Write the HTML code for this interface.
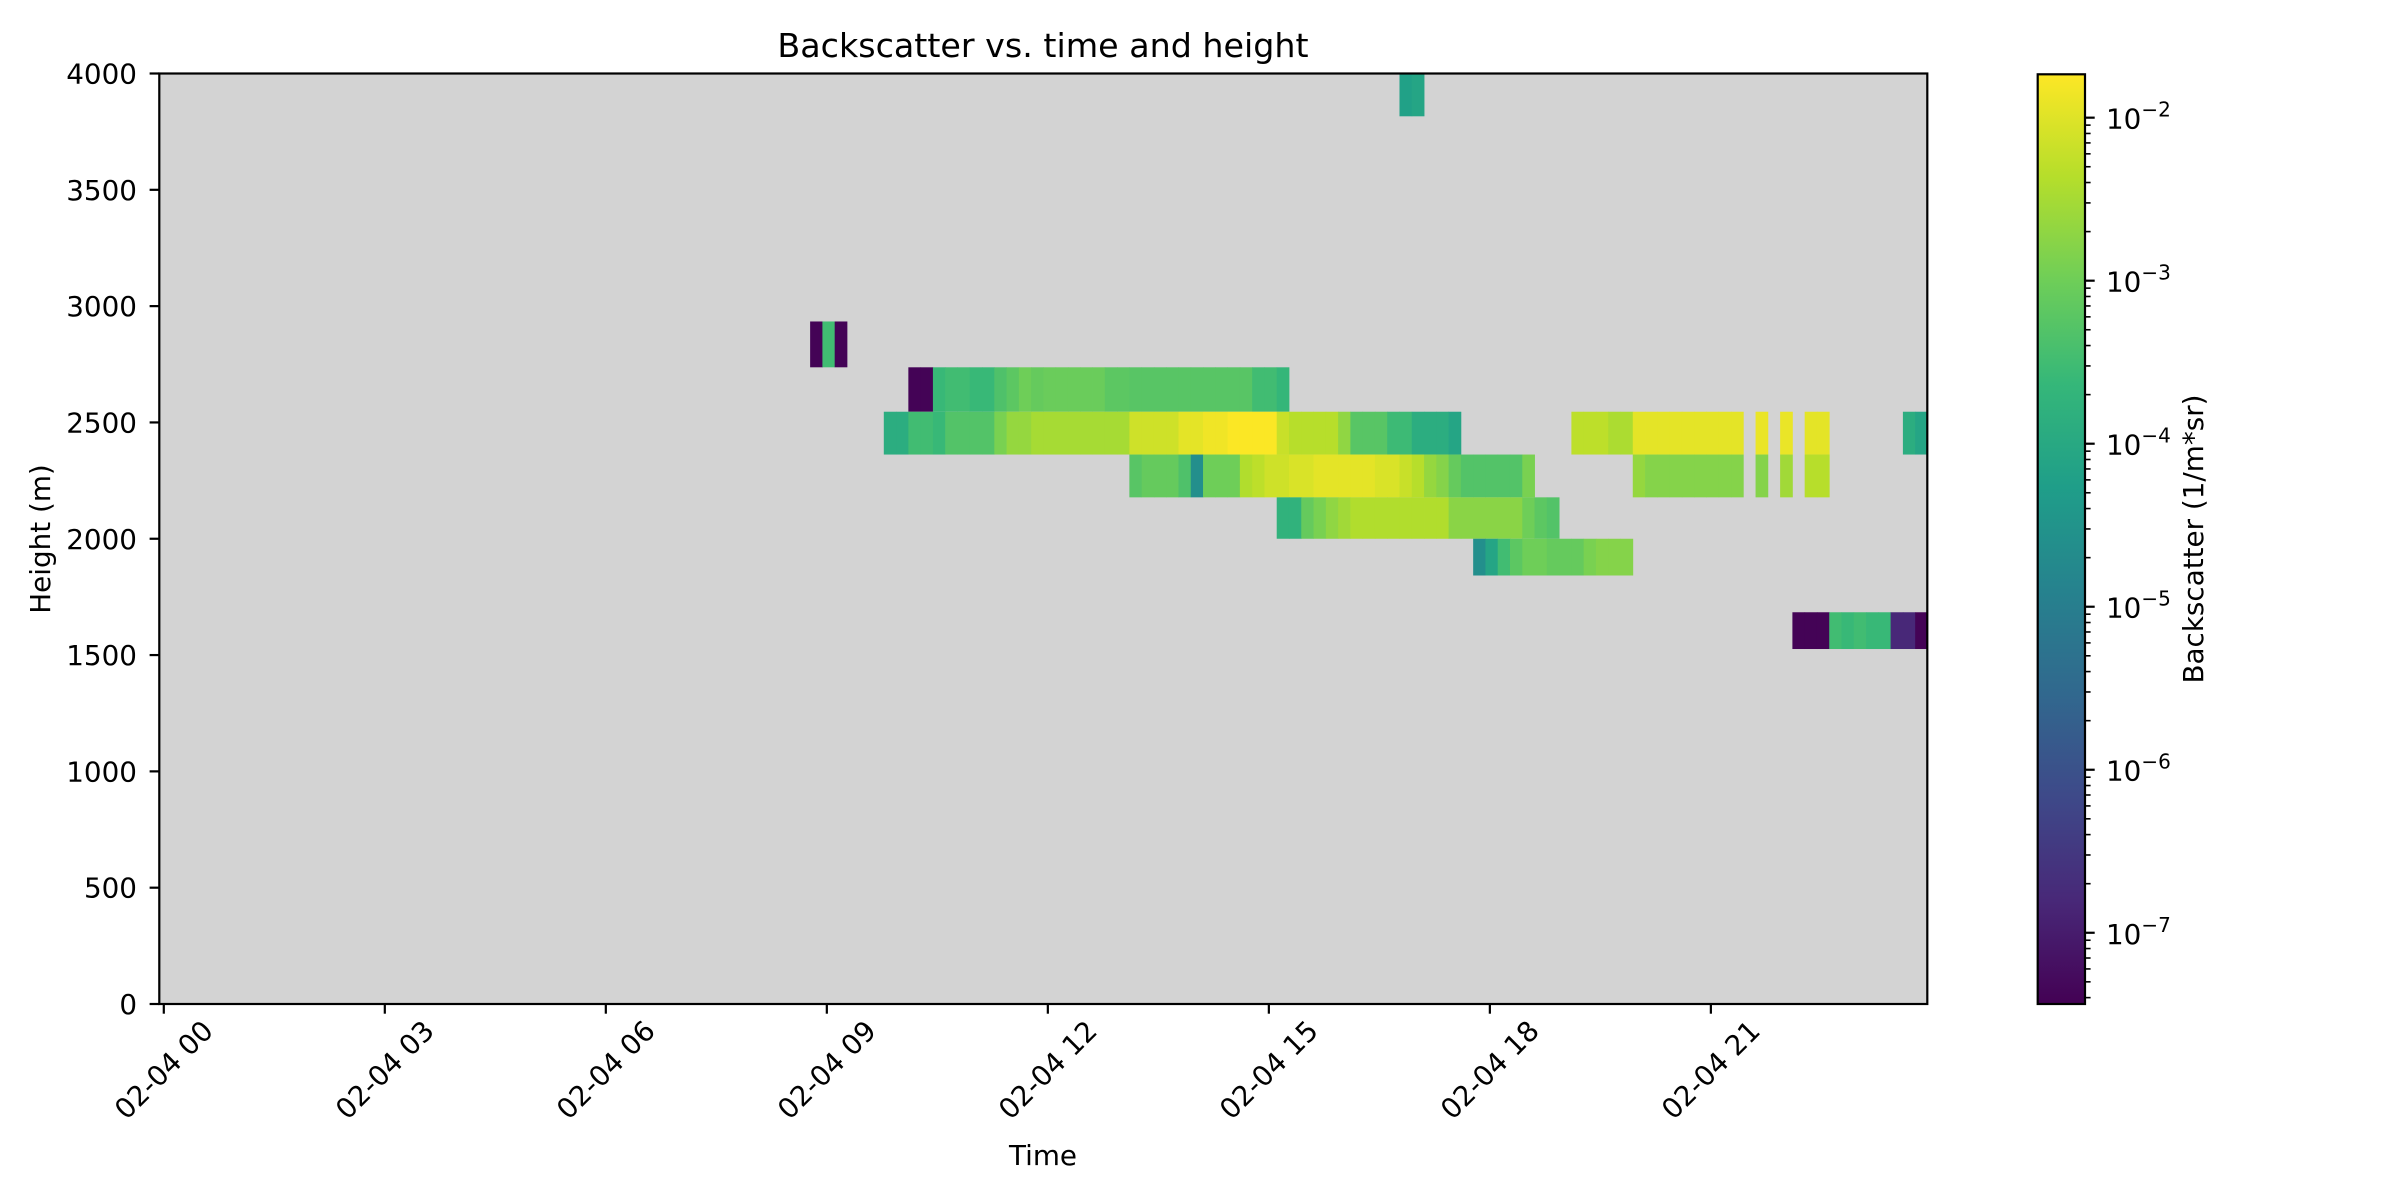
<!DOCTYPE html>
<html><head><meta charset="utf-8"><style>
html,body{margin:0;padding:0;background:#fff;}
svg{display:block;font-family:"DejaVu Sans","Liberation Sans",sans-serif;}
</style></head><body>
<svg id="chart" width="2400" height="1200" viewBox="0 0 2400 1200">
<rect x="0" y="0" width="2400" height="1200" fill="#fff"/>
<text x="1043" y="57" font-size="33.3" text-anchor="middle">Backscatter vs. time and height</text>
<rect x="159.3" y="73.5" width="1768" height="930.5" fill="#d3d3d3"/>
<g id="cells"></g>
<rect x="159.3" y="73.5" width="1768" height="930.5" fill="none" stroke="#000" stroke-width="2.2"/>
<g id="xaxis"></g>
<g id="yaxis"></g>
<text x="1043" y="1165" font-size="27.8" text-anchor="middle">Time</text>
<text x="50" y="539" font-size="27.8" text-anchor="middle" transform="rotate(-90 50 539)">Height (m)</text>
<defs><linearGradient id="vir" x1="0" y1="1" x2="0" y2="0">
<stop offset="0" stop-color="#440154"/><stop offset="0.111" stop-color="#482878"/><stop offset="0.222" stop-color="#3e4989"/><stop offset="0.333" stop-color="#31688e"/><stop offset="0.444" stop-color="#26828e"/><stop offset="0.556" stop-color="#1f9e89"/><stop offset="0.667" stop-color="#35b779"/><stop offset="0.778" stop-color="#6ece58"/><stop offset="0.889" stop-color="#b5de2b"/><stop offset="1" stop-color="#fde725"/>
</linearGradient></defs>
<rect x="2037.7" y="74.3" width="47.3" height="929.7" fill="url(#vir)" stroke="#000" stroke-width="2.2"/>
<g id="cbaxis"></g>
<text x="2203" y="539" font-size="27.8" text-anchor="middle" transform="rotate(-90 2203 539)">Backscatter (1/m*sr)</text>
</svg>
<script>
// time grid: 10-minute bins (hours), heights in metres, values = log10(backscatter)
const binStartHour = -0.06;
const binHours = 1/6;
const rowBottoms = [3816, 2737, 2546, 2362, 2178, 2000, 1842, 1526];
const rowTops    = [4000, 2934, 2737, 2546, 2362, 2178, 2000, 1684];
const rowStartBin = [101, 53, 61, 59, 79, 91, 107, 133];
const rowValues = [
  [-4.2,-4.1],
  [-7.4,-3.5,-7.4],
  [-7.4,-7.4,-3.6,-3.5,-3.5,-3.6,-3.6,-3.35,-3.2,-3.0,-3.1,-3.05,-3.05,-3.05,-3.05,-3.05,-3.2,-3.2,-3.25,-3.25,-3.25,-3.25,-3.25,-3.25,-3.25,-3.25,-3.25,-3.25,-3.5,-3.5,-3.65],
  [-3.9,-3.9,-3.5,-3.5,-3.6,-3.3,-3.3,-3.3,-3.3,-2.9,-2.65,-2.65,-2.5,-2.5,-2.5,-2.5,-2.5,-2.5,-2.5,-2.5,-2.15,-2.15,-2.15,-2.15,-1.95,-1.95,-1.85,-1.85,-1.75,-1.75,-1.75,-1.75,-2.2,-2.35,-2.35,-2.35,-2.35,-2.7,-3.25,-3.25,-3.25,-3.55,-3.55,-3.9,-3.9,-3.9,-4.1,null,null,null,null,null,null,null,null,null,-2.3,-2.3,-2.3,-2.45,-2.45,-1.95,-1.95,-1.95,-1.95,-1.95,-1.95,-1.95,-1.95,-1.95,null,-1.9,null,-1.9,null,-1.95,-1.95,null,null,null,null,null,null,-3.9,-4.1],
  [-3.25,-3.1,-3.1,-3.1,-3.35,-4.6,-3.0,-3.0,-3.0,-2.4,-2.3,-2.15,-2.15,-2.05,-2.05,-1.95,-1.95,-1.95,-1.95,-1.95,-2.05,-2.05,-2.2,-2.35,-2.65,-2.8,-3.1,-3.3,-3.3,-3.3,-3.3,-3.3,-2.9,null,null,null,null,null,null,null,null,-2.65,-2.8,-2.8,-2.8,-2.8,-2.8,-2.8,-2.8,-2.8,null,-2.8,null,-2.55,null,-2.35,-2.35],
  [-3.75,-3.75,-3.1,-2.9,-2.7,-2.55,-2.4,-2.4,-2.4,-2.4,-2.4,-2.4,-2.4,-2.4,-2.75,-2.75,-2.75,-2.75,-2.75,-2.75,-3.0,-3.2,-3.3],
  [-4.6,-4.1,-3.5,-3.2,-3.0,-3.0,-3.1,-3.1,-3.1,-2.9,-2.8,-2.8,-2.8],
  [-7.4,-7.4,-7.4,-3.5,-3.6,-3.5,-3.6,-3.6,-6.8,-6.8,-7.4]
];
const xTickHours = [0,3,6,9,12,15,18,21];
const xTickLabels = ["02-04 00","02-04 03","02-04 06","02-04 09","02-04 12","02-04 15","02-04 18","02-04 21"];
const yTicks = [0,500,1000,1500,2000,2500,3000,3500,4000];
const cbTicks = [-2,-3,-4,-5,-6,-7];
const cbTickLabels = ["−2","−3","−4","−5","−6","−7"];

const NS="http://www.w3.org/2000/svg";
const X0=163.8, PXH=73.67, YB=1004, PXM=930.5/4000;
const VMIN=-7.437, VMAX=-1.734;
const CB_TOP=74.3, CB_BOT=1004;
function xScale(h){return X0+h*PXH;}
function yScale(m){return YB-m*PXM;}
function cbScale(v){return CB_BOT-(v-VMIN)/(VMAX-VMIN)*(CB_BOT-CB_TOP);}
const vir=["#440154","#482878","#3e4989","#31688e","#26828e","#1f9e89","#35b779","#6ece58","#b5de2b","#fde725"];
function hex(c){return [parseInt(c.slice(1,3),16),parseInt(c.slice(3,5),16),parseInt(c.slice(5,7),16)];}
function color(v){
  let t=Math.max(0,Math.min(1,(v-VMIN)/(VMAX-VMIN)))*(vir.length-1);
  let i=Math.min(vir.length-2,Math.floor(t)),f=t-i;
  let a=hex(vir[i]),b=hex(vir[i+1]);
  return "rgb("+a.map((c,j)=>Math.round(c+(b[j]-c)*f)).join(",")+")";
}
function mk(tag,attrs,parent){const e=document.createElementNS(NS,tag);for(const k in attrs)e.setAttribute(k,attrs[k]);parent.appendChild(e);return e;}

const cells=document.getElementById("cells");
rowValues.forEach((vals,r)=>{
  vals.forEach((v,i)=>{
    if(v===null)return;
    const k=rowStartBin[r]+i;
    const x1=xScale(binStartHour+k*binHours), x2=xScale(binStartHour+(k+1)*binHours);
    const y1=yScale(rowTops[r]), y2=yScale(rowBottoms[r]);
    const c=mk("rect",{x:x1,y:y1,width:x2-x1+0.4,height:y2-y1,fill:color(v)},cells);
    
    
  });
});

const xa=document.getElementById("xaxis");
xTickHours.forEach((h,i)=>{
  const x=xScale(h);
  const t=mk("line",{x1:x,y1:1004,x2:x,y2:1013.7,stroke:"#000","stroke-width":2.2},xa);
  
  
  const cy=1070;
  const l=mk("text",{x:x,y:cy,"font-size":27.8,"text-anchor":"middle","dominant-baseline":"central",transform:"rotate(-45 "+x+" "+cy+")"},xa);
  l.textContent=xTickLabels[i];
  
  
});
const ya=document.getElementById("yaxis");
yTicks.forEach(m=>{
  const y=yScale(m);
  const t=mk("line",{x1:149.6,y1:y,x2:159.3,y2:y,stroke:"#000","stroke-width":2.2},ya);
  
  
  const l=mk("text",{x:137,y:y+10,"font-size":27.8,"text-anchor":"end"},ya);
  l.textContent=String(m);
  
  
});
const cb=document.getElementById("cbaxis");
for(let d=-8;d<=-2;d++){
  for(let m=1;m<10;m++){
    const v=d+Math.log10(m);
    if(v<VMIN||v>VMAX)continue;
    const y=cbScale(v);
    const t=mk("line",{x1:2085,y1:y,x2:2085+(m===1?9.7:5.6),y2:y,stroke:"#000","stroke-width":m===1?2.2:1.6},cb);
    
    
  }
}
cbTicks.forEach((v,i)=>{
  const y=cbScale(v);
  const l=mk("text",{x:2106,y:y+11,"font-size":27.8},cb);
  
  
  const a=document.createElementNS(NS,"tspan");a.textContent="10";l.appendChild(a);
  const b=document.createElementNS(NS,"tspan");b.setAttribute("dy","-12");b.setAttribute("font-size","20");b.textContent=cbTickLabels[i];l.appendChild(b);
});
</script>
</body></html>
